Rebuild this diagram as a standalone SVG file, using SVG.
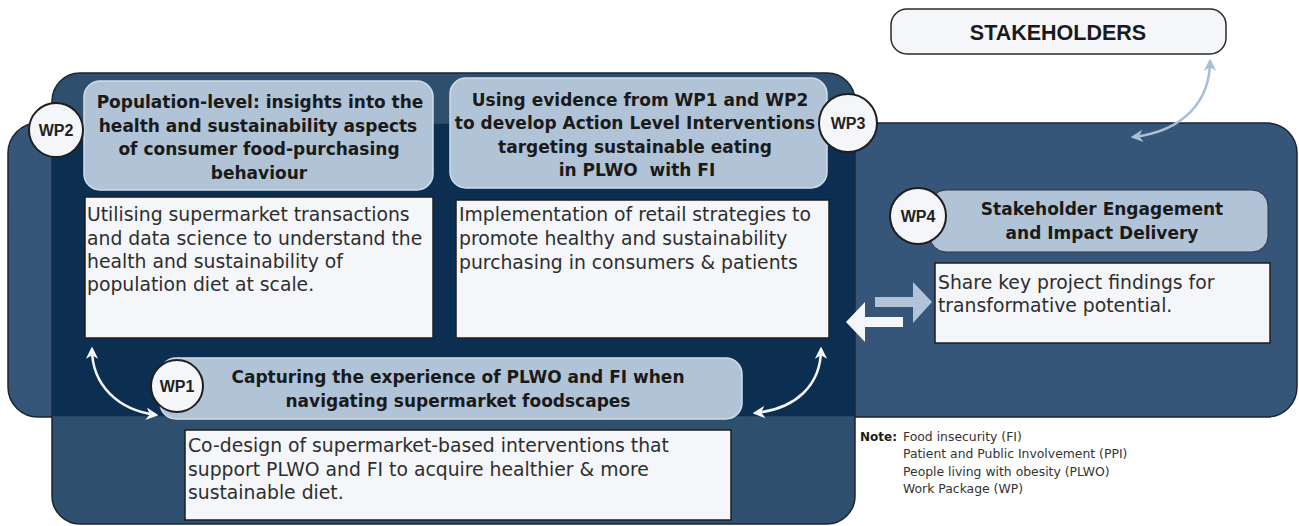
<svg xmlns="http://www.w3.org/2000/svg" width="1299" height="526" viewBox="0 0 1299 526">
  <style>
    .hdr { fill: #b1c3d6; stroke: #d3dde8; stroke-width: 1.5; }
    .box { fill: #f4f6fa; stroke: #1e1e1e; stroke-width: 1.5; }
    .circ { fill: #f4f6fa; stroke: #1e1e1e; stroke-width: 2; }
    .ht { font-family: "DejaVu Sans", sans-serif; font-weight: bold; font-size: 17px; fill: #1a1a1a; text-anchor: middle; }
    .bt { font-family: "DejaVu Sans", sans-serif; font-size: 18.8px; fill: #2e2e2e; }
    .wp { font-family: "Liberation Sans", Arial, sans-serif; font-weight: bold; font-size: 16px; fill: #222; text-anchor: middle; }
    .nt { font-family: "DejaVu Sans", sans-serif; font-size: 12.4px; fill: #333; }
    .curve { fill: none; stroke: #f4f6fa; stroke-width: 2.5; }
  </style>
  <defs>
    <marker id="wh" viewBox="0 0 10 10" refX="8" refY="5" markerWidth="5" markerHeight="5" orient="auto-start-reverse">
      <path d="M0,0 L10,5 L0,10 L3,5 Z" fill="#f4f6fa"/>
    </marker>
    <marker id="bh" viewBox="0 0 10 10" refX="8" refY="5" markerWidth="5" markerHeight="5" orient="auto-start-reverse">
      <path d="M0,0 L10,5 L0,10 L3,5 Z" fill="#a9bfd5"/>
    </marker>
  </defs>

  <g id="background">
    <rect x="8" y="123" width="1289" height="294" rx="30" fill="#365679" stroke="#1b2533" stroke-width="1.5"/>
    <rect x="52" y="73" width="803" height="451" rx="28" fill="#2e4f6e" stroke="#1b2533" stroke-width="1.5"/>
    <rect x="52.75" y="123.75" width="801.5" height="292.5" fill="#0c2f51"/>
  </g>

  <g id="connectors">
    <path class="curve" d="M92,349 C92,385 118,410 156,415" marker-start="url(#wh)" marker-end="url(#wh)"/>
    <path class="curve" d="M821,349 C821,385 796,409 755,413" marker-start="url(#wh)" marker-end="url(#wh)"/>
    <path d="M1210,61 C1210,100 1185,131 1133,137" fill="none" stroke="#a9bfd5" stroke-width="2.5" marker-start="url(#bh)" marker-end="url(#bh)"/>
    <polygon points="875,297 913,297 913,282 932,302 913,323 913,307 875,307" fill="#b1c3d6"/>
    <polygon points="903,317 865,317 865,302 846,322 865,342 865,327 903,327" fill="#f4f6fa"/>
  </g>

  <g id="stakeholders">
    <rect x="891" y="9" width="335" height="45" rx="16" fill="#f4f6fa" stroke="#2a2a2a" stroke-width="1.5"/>
    <text x="1058" y="40" font-family="Liberation Sans, Arial, sans-serif" font-weight="bold" font-size="21.5" fill="#1a1a1a" text-anchor="middle">STAKEHOLDERS</text>
  </g>

  <g id="wp2">
    <rect class="hdr" x="84" y="81" width="349" height="109" rx="16"/>
    <text class="ht" x="260" y="108">Population-level: insights into the</text>
    <text class="ht" x="258" y="131.5">health and sustainability aspects</text>
    <text class="ht" x="259" y="155">of consumer food-purchasing</text>
    <text class="ht" x="259" y="178.5">behaviour</text>
    <rect class="box" x="85" y="197" width="348" height="141"/>
    <text class="bt" x="87" y="221">Utilising supermarket transactions</text>
    <text class="bt" x="87" y="245">and data science to understand the</text>
    <text class="bt" x="87" y="268">health and sustainability of</text>
    <text class="bt" x="87" y="291">population diet at scale.</text>
    <circle class="circ" cx="56" cy="130" r="27"/>
    <text class="wp" x="56" y="136">WP2</text>
  </g>

  <g id="wp3">
    <rect class="hdr" x="450" y="78" width="377" height="110" rx="16"/>
    <text class="ht" x="640" y="106">Using evidence from WP1 and WP2</text>
    <text class="ht" x="635" y="129">to develop Action Level Interventions</text>
    <text class="ht" x="635" y="153">targeting sustainable eating</text>
    <text class="ht" x="637" y="176" xml:space="preserve" style="white-space: pre">in PLWO  with FI</text>
    <rect class="box" x="456" y="200" width="373" height="138"/>
    <text class="bt" x="459" y="221">Implementation of retail strategies to</text>
    <text class="bt" x="459" y="245">promote healthy and sustainability</text>
    <text class="bt" x="459" y="269">purchasing in consumers &amp; patients</text>
    <circle class="circ" cx="848" cy="123" r="29"/>
    <text class="wp" x="848" y="129">WP3</text>
  </g>

  <g id="wp4">
    <rect x="930" y="190" width="338" height="62" rx="16" fill="#b1c3d6" stroke="#2b3348" stroke-width="1"/>
    <text class="ht" x="1102" y="215">Stakeholder Engagement</text>
    <text class="ht" x="1102" y="239">and Impact Delivery</text>
    <rect class="box" x="935" y="263" width="335" height="80"/>
    <text class="bt" x="938" y="289">Share key project findings for</text>
    <text class="bt" x="938" y="312">transformative potential.</text>
    <circle class="circ" cx="918" cy="216" r="28"/>
    <text class="wp" x="918" y="222">WP4</text>
  </g>

  <g id="wp1">
    <rect class="hdr" x="160" y="358" width="582" height="61" rx="16"/>
    <text class="ht" x="458" y="383">Capturing the experience of PLWO and FI when</text>
    <text class="ht" x="458" y="407">navigating supermarket foodscapes</text>
    <rect class="box" x="185" y="430" width="546" height="90"/>
    <text class="bt" x="188" y="452">Co-design of supermarket-based interventions that</text>
    <text class="bt" x="188" y="476">support PLWO and FI to acquire healthier &amp; more</text>
    <text class="bt" x="188" y="499">sustainable diet.</text>
    <circle class="circ" cx="177" cy="386" r="26"/>
    <text class="wp" x="177" y="392">WP1</text>
  </g>

  <g id="note">
    <text x="860" y="441" font-family="DejaVu Sans, sans-serif" font-weight="bold" font-size="12" fill="#1a1a1a">Note:</text>
    <text class="nt" x="903" y="441">Food insecurity (FI)</text>
    <text class="nt" x="903" y="458">Patient and Public Involvement (PPI)</text>
    <text class="nt" x="903" y="476">People living with obesity (PLWO)</text>
    <text class="nt" x="903" y="493">Work Package (WP)</text>
  </g>
</svg>
